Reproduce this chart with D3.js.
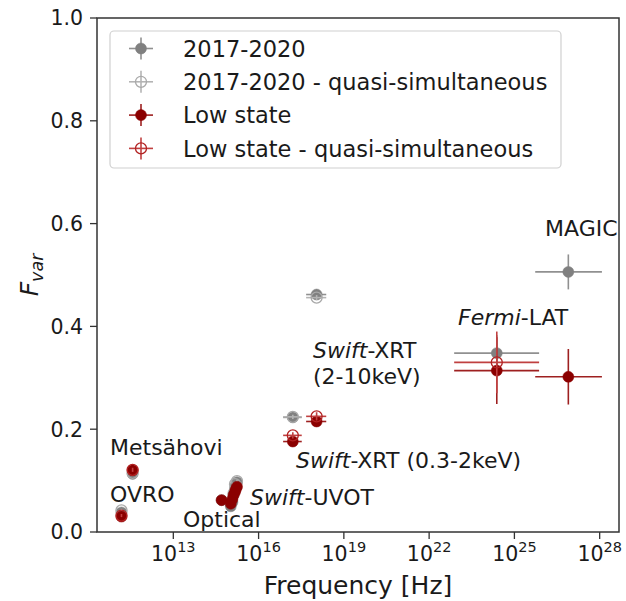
<!DOCTYPE html>
<html><head><meta charset="utf-8">
<script src="https://cdn.jsdelivr.net/npm/d3@7"></script>
<style>
html,body{margin:0;padding:0;background:#fff;}
svg{display:block;font-family:"DejaVu Sans",sans-serif;}
</style></head>
<body><svg id="c" width="626" height="601"></svg>
<script>
// ---- data (frequency in Hz, F_var, F_var error, frequency band limits) ----
const seriesNames = ["2017-2020", "2017-2020 - quasi-simultaneous", "Low state", "Low state - quasi-simultaneous"];

// 2017-2020
const allFreq   = [1.5e11, 3.7e11, 5.0e14, 1.05e15, 1.2e15, 1.32e15, 1.48e15, 1.58e15, 1.74e15, 1.6e17, 1.1e18, 2.4e24, 7.9e26];
const allFvar   = [0.038, 0.113, 0.062, 0.050, 0.058, 0.072, 0.085, 0.092, 0.097, 0.223, 0.462, 0.348, 0.506];
const allErr    = [0.003, 0.004, 0.002, 0.003, 0.003, 0.003, 0.003, 0.003, 0.003, 0.003, 0.004, 0.035, 0.034];
const allFreqLo = [null, null, null, null, null, null, null, null, null, 7.3e16, 4.7e17, 7.6e22, 5.4e25];
const allFreqHi = [null, null, null, null, null, null, null, null, null, 3.3e17, 2.4e18, 7.4e25, 1.2e28];

// 2017-2020 - quasi-simultaneous
const allQsFreq   = [1.5e11, 3.7e11, 1.32e15, 1.48e15, 1.74e15, 1.6e17, 1.1e18];
const allQsFvar   = [0.042, 0.115, 0.075, 0.093, 0.099, 0.224, 0.456];
const allQsErr    = [0.003, 0.004, 0.003, 0.003, 0.003, 0.004, 0.005];
const allQsFreqLo = [null, null, null, null, null, 7.3e16, 4.7e17];
const allQsFreqHi = [null, null, null, null, null, 3.3e17, 2.4e18];

// Low state
const lowFreq   = [1.5e11, 3.7e11, 5.0e14, 1.05e15, 1.2e15, 1.32e15, 1.48e15, 1.58e15, 1.74e15, 1.6e17, 1.1e18, 2.4e24, 7.9e26];
const lowFvar   = [0.030, 0.120, 0.062, 0.055, 0.064, 0.072, 0.078, 0.083, 0.088, 0.176, 0.215, 0.314, 0.302];
const lowErr    = [0.003, 0.004, 0.002, 0.003, 0.003, 0.003, 0.003, 0.003, 0.003, 0.006, 0.008, 0.065, 0.054];
const lowFreqLo = [null, null, null, null, null, null, null, null, null, 7.3e16, 4.7e17, 7.6e22, 5.4e25];
const lowFreqHi = [null, null, null, null, null, null, null, null, null, 3.3e17, 2.4e18, 7.4e25, 1.2e28];

// Low state - quasi-simultaneous
const lowQsFreq   = [1.5e11, 3.7e11, 1.6e17, 1.1e18, 2.4e24];
const lowQsFvar   = [0.032, 0.121, 0.188, 0.225, 0.330];
const lowQsErr    = [0.003, 0.004, 0.006, 0.008, 0.060];
const lowQsFreqLo = [null, null, 7.3e16, 4.7e17, 7.6e22];
const lowQsFreqHi = [null, null, 3.3e17, 2.4e18, 7.4e25];

const xTickExps = [13, 16, 19, 22, 25, 28];
const yTicks = [0.0, 0.2, 0.4, 0.6, 0.8, 1.0];

// ---- drawing ----
const svg = d3.select("#c");
const L = 97, R = 619, T = 18, B = 532;
const x = d3.scaleLog().domain([Math.pow(10, 10.315), Math.pow(10, 28.68)]).range([L, R]);
const y = d3.scaleLinear().domain([0, 1]).range([B, T]);

const styles = [
  {color: "#808080", ecolor: "#909090", filled: true},
  {color: "#a9a9a9", ecolor: "#b4b4b4", filled: false},
  {color: "#8b0000", ecolor: "#9e2020", filled: true},
  {color: "#b22222", ecolor: "#c04040", filled: false}
];

function build(fr, fv, er, lo, hi) {
  return fr.map((f, i) => ({f, v: fv[i], e: er[i], lo: lo[i], hi: hi[i]}));
}
const series = [
  build(allFreq, allFvar, allErr, allFreqLo, allFreqHi),
  build(allQsFreq, allQsFvar, allQsErr, allQsFreqLo, allQsFreqHi),
  build(lowFreq, lowFvar, lowErr, lowFreqLo, lowFreqHi),
  build(lowQsFreq, lowQsFvar, lowQsErr, lowQsFreqLo, lowQsFreqHi)
];

const plot = svg.append("g");
series.forEach((pts, si) => {
  const st = styles[si];
  const g = plot.append("g");
  pts.forEach(p => {
    const cx = x(p.f), cy = y(p.v);
    if (p.lo != null) {
      g.append("line").attr("x1", x(p.lo)).attr("x2", x(p.hi)).attr("y1", cy).attr("y2", cy)
        .attr("stroke", st.ecolor).attr("stroke-width", 1.6);
    }
    g.append("line").attr("x1", cx).attr("x2", cx).attr("y1", y(p.v - p.e)).attr("y2", y(p.v + p.e))
      .attr("stroke", st.ecolor).attr("stroke-width", 1.6);
  });
  pts.forEach(p => {
    g.append("circle").attr("cx", x(p.f)).attr("cy", y(p.v)).attr("r", 5.5)
      .attr("fill", st.filled ? st.color : "none")
      .attr("stroke", st.color).attr("stroke-width", st.filled ? 0.5 : 1.3);
  });
});

// axes frame
const axCol = "#333";
svg.append("rect").attr("x", L).attr("y", T).attr("width", R - L).attr("height", B - T)
  .attr("fill", "none").attr("stroke", axCol).attr("stroke-width", 1.5);

// y axis
yTicks.forEach(t => {
  svg.append("line").attr("x1", L - 7).attr("x2", L).attr("y1", y(t)).attr("y2", y(t))
    .attr("stroke", axCol).attr("stroke-width", 1.3);
  svg.append("text").attr("x", L - 14).attr("y", y(t)).attr("dy", "0.36em")
    .attr("text-anchor", "end").attr("font-size", 20.5).attr("fill", "#1a1a1a").text(t.toFixed(1));
});
// x axis
xTickExps.forEach(e => {
  const px = x(Math.pow(10, e));
  svg.append("line").attr("x1", px).attr("x2", px).attr("y1", B).attr("y2", B + 7)
    .attr("stroke", axCol).attr("stroke-width", 1.3);
  const t = svg.append("text").attr("x", px).attr("y", 561).attr("text-anchor", "middle")
    .attr("font-size", 20.5).attr("fill", "#1a1a1a");
  t.append("tspan").text("10");
  t.append("tspan").attr("dy", -9).attr("font-size", 14.5).text(e);
});

// axis labels
svg.append("text").attr("x", (L + R) / 2).attr("y", 594).attr("text-anchor", "middle")
  .attr("font-size", 25).attr("fill", "#1a1a1a").text("Frequency [Hz]");
const yl = svg.append("text").attr("transform", `translate(38,${(T + B) / 2}) rotate(-90)`)
  .attr("text-anchor", "middle").attr("font-size", 25).attr("fill", "#1a1a1a");
yl.append("tspan").attr("font-style", "italic").text("F");
yl.append("tspan").attr("font-style", "italic").attr("font-size", 17.5).attr("dy", 5).text("var");

// annotations
const ann = [
  {x: 110, y: 455, parts: [["Metsähovi", false]]},
  {x: 110, y: 502, parts: [["OVRO", false]]},
  {x: 183, y: 527, parts: [["Optical", false]]},
  {x: 250, y: 505, parts: [["Swift", true], ["-UVOT", false]]},
  {x: 296, y: 468, parts: [["Swift", true], ["-XRT (0.3-2keV)", false]]},
  {x: 313, y: 358, parts: [["Swift", true], ["-XRT", false]]},
  {x: 313, y: 384, parts: [["(2-10keV)", false]]},
  {x: 458, y: 325, parts: [["Fermi", true], ["-LAT", false]]},
  {x: 545, y: 236, parts: [["MAGIC", false]]}
];
ann.forEach(a => {
  const t = svg.append("text").attr("x", a.x).attr("y", a.y).attr("font-size", 22).attr("fill", "#1a1a1a");
  a.parts.forEach(p => t.append("tspan").attr("font-style", p[1] ? "italic" : "normal").text(p[0]));
});

// legend
const lg = svg.append("g");
lg.append("rect").attr("x", 110).attr("y", 31).attr("width", 451).attr("height", 137).attr("rx", 4)
  .attr("fill", "#fff").attr("fill-opacity", 0.85).attr("stroke", "#d0d0d0").attr("stroke-width", 1.2);
seriesNames.forEach((name, i) => {
  const st = styles[i];
  const cy = 48.5 + i * 33.3, cx = 141;
  lg.append("line").attr("x1", cx - 12).attr("x2", cx + 12).attr("y1", cy).attr("y2", cy)
    .attr("stroke", st.ecolor).attr("stroke-width", 1.6);
  lg.append("line").attr("x1", cx).attr("x2", cx).attr("y1", cy - 11).attr("y2", cy + 11)
    .attr("stroke", st.ecolor).attr("stroke-width", 1.6);
  lg.append("circle").attr("cx", cx).attr("cy", cy).attr("r", 5.5)
    .attr("fill", st.filled ? st.color : "none").attr("stroke", st.color)
    .attr("stroke-width", st.filled ? 0.5 : 1.3);
  lg.append("text").attr("x", 183).attr("y", cy).attr("dy", "0.36em").attr("font-size", 22.5)
    .attr("fill", "#1a1a1a").text(name);
});
</script></body></html>
